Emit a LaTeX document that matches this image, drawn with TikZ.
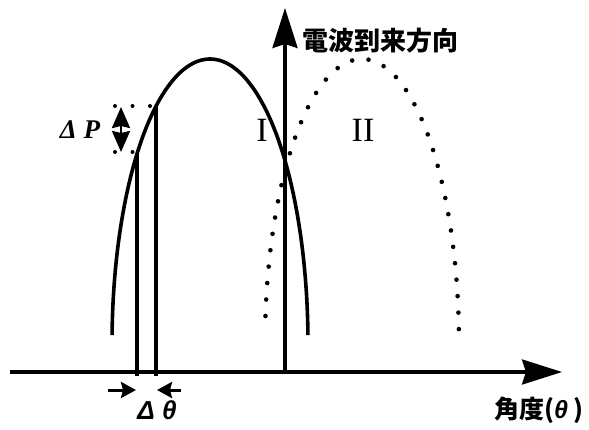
\documentclass[tikz,border=0pt]{standalone}
\usepackage{fontspec}
\setmainfont{Liberation Serif}
\newfontfamily\cjk{Noto Sans CJK JP}
\newfontfamily\arialf{Liberation Sans}
\usetikzlibrary{arrows.meta}
\begin{document}
\begin{tikzpicture}[x=1pt,y=-1pt,
  axis/.style={line width=3.4pt},
  curveI/.style={line width=3.6pt},
  curveII/.style={line width=4.6pt, dash pattern=on 0pt off 16.5pt, line cap=round},
  bar/.style={line width=3.2pt},
  dotline/.style={line width=4pt, dash pattern=on 0pt off 17.5pt, line cap=round},
  lbl/.style={inner sep=0pt},
  bigtip/.style={-{Stealth[length=40pt,width=25pt,inset=4pt]}},
  smalltip/.style={-{Stealth[length=15pt,width=16pt,inset=2pt]}}]
\useasboundingbox (0,0) rectangle (589,429);
% axes
\coordinate (xs) at (10,372);
\coordinate (xe) at (562,372);
\coordinate (ys) at (285,374);
\coordinate (ye) at (285,8);
\draw[axis, bigtip] (xs) -- (xe);
\draw[axis, bigtip] (ys) -- (ye);
% curve I (solid)
\draw[curveI] plot[domain=1.8:178.2, samples=150, smooth] ({210+98*cos(\x)},{344-285*sin(\x)});
% curve II (dotted)
\draw[curveII] plot[domain=3:177, samples=150, smooth] ({362+97*cos(\x)},{344-285*sin(\x)});
% bars
\coordinate (b1s) at (137,376); \coordinate (b1e) at (137,154);
\coordinate (b2s) at (156,376); \coordinate (b2e) at (156,106);
\draw[bar] (b1s) -- (b1e);
\draw[bar] (b2s) -- (b2e);
% dotted guides
\coordinate (d1s) at (115,106); \coordinate (d1e) at (156,106);
\coordinate (d2s) at (115,152); \coordinate (d2e) at (137,152);
\draw[dotline] (d1s) -- (d1e);
\draw[dotline] (d2s) -- (d2e);
% delta P arrow
\coordinate (pa) at (121,107); \coordinate (pb) at (121,152);
\draw[line width=2.4pt, {Stealth[length=21pt,width=18pt,inset=2pt]}-{Stealth[length=21pt,width=18pt,inset=2pt]}] (pa) -- (pb);
% delta theta arrows
\coordinate (ta) at (108,390); \coordinate (tb) at (136,390);
\coordinate (tc) at (181,390); \coordinate (td) at (157,390);
\draw[line width=3pt, smalltip] (ta) -- (tb);
\draw[line width=3pt, smalltip] (tc) -- (td);
% labels
\node[lbl, anchor=west, font=\cjk\bfseries\fontsize{26}{26}\selectfont] (title) at (302,41) {電波到来方向};
\node[lbl, anchor=east, font=\cjk\bfseries\fontsize{25}{25}\selectfont] (ang) at (584,410) {角度({\arialf\bfseries\itshape θ} )};
\node[lbl, font=\bfseries\itshape\fontsize{27}{27}\selectfont] (dp) at (80,130) {Δ P};
\node[lbl, font=\arialf\bfseries\itshape\fontsize{26}{26}\selectfont] (dt) at (157,410) {Δ θ};
\node[lbl, font=\fontsize{34}{34}\selectfont] (r1) at (262,130) {I};
\node[lbl, font=\fontsize{34}{34}\selectfont] (r2) at (363,130) {II};
\end{tikzpicture}
\end{document}
